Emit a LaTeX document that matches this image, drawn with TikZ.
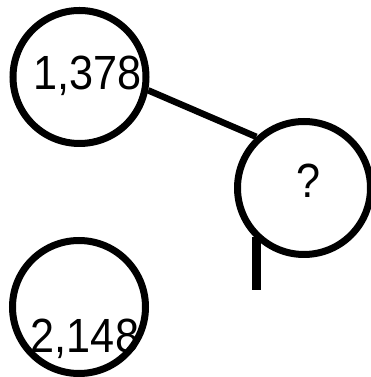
\documentclass[tikz,border=0pt]{standalone}
\usepackage{fontspec}
\setmainfont[FakeStretch=0.9]{Liberation Sans}
\begin{document}
\begin{tikzpicture}[x=1pt,y=1pt,
  ring/.style={draw, circle, line width=7pt, minimum size=133pt, inner sep=0pt},
  num/.style={anchor=base, inner sep=0pt, font=\fontsize{48}{48}\selectfont},
  link/.style={line width=6.5pt}]
\useasboundingbox (0,0) rectangle (371,377);
\node[ring] (c1) at (79.5,300) {};
\node[ring] (c2) at (304,189) {};
\node[ring] (c3) at (79,70) {};
\node[num] (t1) at (87.5,287) {1,378};
\node[num] (t2) at (308.5,179) {?};
\node[num] (t3) at (85,24) {2,148};
\draw[link] (c1.-11) -- (c2.133);
\coordinate (vend) at (256.5,87);
\draw[line width=8.5pt] (vend |- c2.224) -- (vend);
\end{tikzpicture}
\end{document}
